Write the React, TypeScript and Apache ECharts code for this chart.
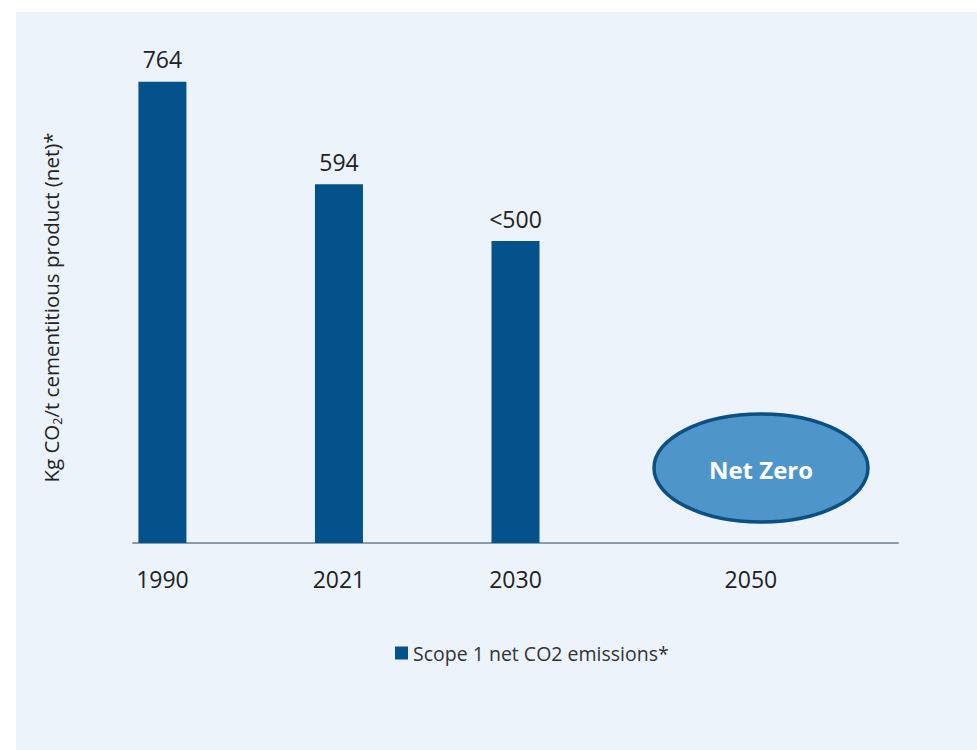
import React, { useEffect, useRef } from "react";
import * as echarts from "echarts";

// Category slots (blank slots keep the original uneven spacing)
const categories: string[] = ["1990", "", "", "2021", "", "", "2030", "", "", "", "2050", "", ""];
// Scope 1 net CO2 emissions (kg CO2 / t cementitious product)
const emissions: (number | null)[] = [764, null, null, 594, null, null, 500, null, null, null, null, null, null];
const valueLabels: Record<number, string> = { 0: "764", 3: "594", 6: "<500" };
const seriesName = "Scope 1 net CO2 emissions*";
const netZeroText = "Net Zero";

const FONT = "Open Sans";
const BAR = "#03528B";

export default function App() {
  const ref = useRef<HTMLDivElement>(null);
  useEffect(() => {
    if (!ref.current) return;
    const chart = echarts.init(ref.current, null, { renderer: "svg" });
    chart.setOption({
      animation: false,
      backgroundColor: "#FFFFFF",
      textStyle: { fontFamily: FONT },
      graphic: [
        {
          type: "rect",
          z: -10,
          silent: true,
          shape: { x: 16, y: 12, width: 977, height: 750 },
          style: { fill: "#ECF3FA" },
        },
        {
          type: "ellipse",
          z: 10,
          shape: { cx: 761, cy: 468, rx: 107, ry: 54 },
          style: { fill: "#4E96C9", stroke: "#0B4F85", lineWidth: 3.5 },
        },
        {
          type: "text",
          z: 11,
          x: 761,
          y: 469,
          style: {
            text: netZeroText,
            fill: "#FFFFFF",
            font: `bold 24px "${FONT}"`,
            align: "center",
            verticalAlign: "middle",
          },
        },
      ],
      grid: { left: 133, right: 79, top: 72, bottom: 207, containLabel: false },
      legend: {
        show: true,
        left: 390,
        top: 638,
        itemWidth: 13,
        itemHeight: 13,
        itemGap: 6,
        icon: "rect",
        textStyle: { fontSize: 19.5, color: "#333333", fontFamily: FONT },
        data: [seriesName],
      },
      xAxis: {
        type: "category",
        data: categories,
        boundaryGap: true,
        axisLine: { show: true, lineStyle: { color: "#8A9BAA", width: 2 } },
        axisTick: { show: false },
        axisLabel: {
          interval: 0,
          margin: 24,
          fontSize: 23,
          color: "#222222",
          fontFamily: FONT,
        },
      },
      yAxis: {
        type: "value",
        min: 0,
        max: 780,
        splitLine: { show: false },
        axisLine: { show: false },
        axisTick: { show: false },
        axisLabel: { show: false },
        name: "{a|Kg CO}{s|2}{a|/t cementitious product (net)*}",
        nameLocation: "middle",
        nameRotate: 90,
        nameGap: 69,
        nameTextStyle: {
          rich: {
            a: { fontSize: 20.5, color: "#222222", fontFamily: FONT, lineHeight: 26 },
            s: { fontSize: 12.5, color: "#222222", fontFamily: FONT, lineHeight: 16, verticalAlign: "bottom" },
          },
        },
      },
      series: [
        {
          name: seriesName,
          type: "bar",
          data: emissions,
          barWidth: 48,
          itemStyle: { color: BAR },
          label: {
            show: true,
            position: "top",
            distance: 11,
            fontSize: 23,
            color: "#222222",
            fontFamily: FONT,
            formatter: (p: any) => valueLabels[p.dataIndex] ?? "",
          },
        },
      ],
    });
    return () => chart.dispose();
  }, []);
  return (
    <div
      ref={ref}
      style={{ position: "fixed", left: 0, top: 0, width: 977, height: 750 }}
    />
  );
}
